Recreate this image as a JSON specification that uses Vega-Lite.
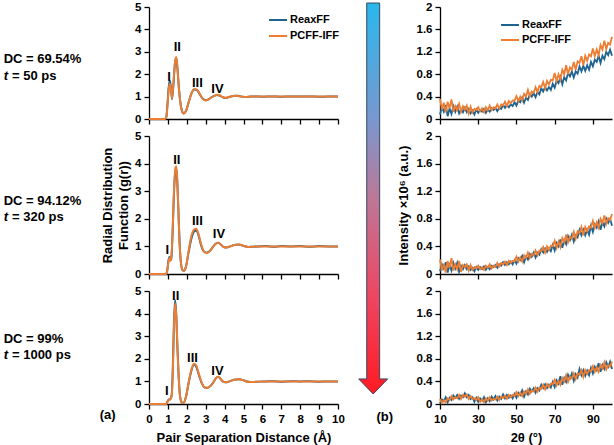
{
"$schema":"https://vega.github.io/schema/vega-lite/v6.json",
"background":"white",
"padding":{"left":3,"top":1,"right":3,"bottom":2},
"bounds":"flush",
"columns":3,
"spacing":{"row":17,"column":0},
"resolve":{"scale":{"color":"independent"},"legend":{"color":"independent"}},
"datasets":{
"rdf1":[{"x":0,"A":0,"B":0},{"x":0.85,"A":0,"B":0},{"x":0.92,"A":0.1,"B":0.1},{"x":0.97,"A":0.6,"B":0.5},{"x":1.04,"A":1.4,"B":1.3},{"x":1.1,"A":1.72,"B":1.57},{"x":1.16,"A":1.4,"B":1.35},{"x":1.22,"A":0.88,"B":0.92},{"x":1.3,"A":1.6,"B":1.7},{"x":1.37,"A":2.45,"B":2.5},{"x":1.44,"A":2.73,"B":2.77},{"x":1.5,"A":2.3,"B":2.35},{"x":1.57,"A":1.5,"B":1.5},{"x":1.65,"A":0.8,"B":0.8},{"x":1.73,"A":0.4,"B":0.4},{"x":1.82,"A":0.25,"B":0.25},{"x":1.95,"A":0.35,"B":0.35},{"x":2.1,"A":0.75,"B":0.75},{"x":2.25,"A":1.15,"B":1.15},{"x":2.4,"A":1.32,"B":1.34},{"x":2.55,"A":1.28,"B":1.3},{"x":2.7,"A":1.08,"B":1.1},{"x":2.85,"A":0.9,"B":0.9},{"x":3.0,"A":0.84,"B":0.83},{"x":3.15,"A":0.88,"B":0.88},{"x":3.3,"A":0.97,"B":0.96},{"x":3.45,"A":1.03,"B":1.03},{"x":3.6,"A":1.07,"B":1.08},{"x":3.75,"A":1.04,"B":1.05},{"x":3.9,"A":0.97,"B":0.97},{"x":4.05,"A":0.94,"B":0.95},{"x":4.25,"A":0.98,"B":0.99},{"x":4.45,"A":1.03,"B":1.03},{"x":4.65,"A":1.04,"B":1.04},{"x":4.85,"A":1.01,"B":1.0},{"x":5.1,"A":0.98,"B":0.98},{"x":5.4,"A":1.0,"B":1.0},{"x":5.7,"A":1.01,"B":1.0},{"x":6.0,"A":0.99,"B":1.0},{"x":6.5,"A":1.01,"B":1.0},{"x":7,"A":0.99,"B":1.0},{"x":7.5,"A":1.01,"B":1.0},{"x":8,"A":1.0,"B":1.0},{"x":8.5,"A":1.01,"B":1.0},{"x":9,"A":0.99,"B":1.0},{"x":9.5,"A":1.0,"B":1.0},{"x":10,"A":1.0,"B":1.0}],
"rdf2":[{"x":0,"A":0,"B":0},{"x":0.9,"A":0,"B":0},{"x":0.97,"A":0.15,"B":0.12},{"x":1.03,"A":0.5,"B":0.45},{"x":1.08,"A":0.62,"B":0.58},{"x":1.13,"A":0.5,"B":0.48},{"x":1.18,"A":0.55,"B":0.6},{"x":1.25,"A":1.5,"B":1.6},{"x":1.32,"A":2.9,"B":3.0},{"x":1.4,"A":3.75,"B":3.85},{"x":1.45,"A":3.8,"B":3.9},{"x":1.5,"A":3.3,"B":3.35},{"x":1.56,"A":2.2,"B":2.2},{"x":1.62,"A":1.1,"B":1.1},{"x":1.69,"A":0.4,"B":0.4},{"x":1.77,"A":0.14,"B":0.14},{"x":1.85,"A":0.12,"B":0.12},{"x":1.95,"A":0.25,"B":0.25},{"x":2.1,"A":0.8,"B":0.85},{"x":2.25,"A":1.3,"B":1.4},{"x":2.4,"A":1.55,"B":1.62},{"x":2.5,"A":1.58,"B":1.64},{"x":2.62,"A":1.4,"B":1.45},{"x":2.75,"A":1.05,"B":1.1},{"x":2.9,"A":0.82,"B":0.82},{"x":3.05,"A":0.77,"B":0.76},{"x":3.2,"A":0.82,"B":0.82},{"x":3.35,"A":0.95,"B":0.95},{"x":3.5,"A":1.08,"B":1.08},{"x":3.65,"A":1.13,"B":1.13},{"x":3.8,"A":1.07,"B":1.06},{"x":3.95,"A":0.98,"B":0.98},{"x":4.1,"A":0.96,"B":0.96},{"x":4.3,"A":1.0,"B":1.0},{"x":4.5,"A":1.05,"B":1.05},{"x":4.75,"A":1.07,"B":1.07},{"x":5.0,"A":1.02,"B":1.02},{"x":5.25,"A":0.98,"B":0.98},{"x":5.5,"A":0.99,"B":0.99},{"x":5.8,"A":1.0,"B":1.0},{"x":6.2,"A":1.01,"B":1.0},{"x":6.6,"A":0.99,"B":1.0},{"x":7,"A":1.01,"B":1.0},{"x":7.5,"A":1.0,"B":1.0},{"x":8,"A":1.01,"B":1.0},{"x":8.5,"A":0.99,"B":1.0},{"x":9,"A":1.01,"B":1.0},{"x":9.5,"A":1.0,"B":1.0},{"x":10,"A":1.0,"B":1.0}],
"rdf3":[{"x":0,"A":0,"B":0},{"x":0.9,"A":0,"B":0},{"x":0.97,"A":0.1,"B":0.08},{"x":1.05,"A":0.2,"B":0.18},{"x":1.13,"A":0.22,"B":0.2},{"x":1.2,"A":0.4,"B":0.35},{"x":1.26,"A":1.6,"B":1.4},{"x":1.32,"A":3.6,"B":3.4},{"x":1.38,"A":4.6,"B":4.45},{"x":1.44,"A":4.0,"B":3.95},{"x":1.5,"A":2.6,"B":2.6},{"x":1.57,"A":1.2,"B":1.2},{"x":1.65,"A":0.3,"B":0.3},{"x":1.75,"A":0.05,"B":0.05},{"x":1.85,"A":0.07,"B":0.07},{"x":1.95,"A":0.3,"B":0.3},{"x":2.1,"A":0.95,"B":0.95},{"x":2.25,"A":1.5,"B":1.55},{"x":2.38,"A":1.75,"B":1.78},{"x":2.5,"A":1.65,"B":1.7},{"x":2.65,"A":1.25,"B":1.3},{"x":2.8,"A":0.9,"B":0.92},{"x":2.95,"A":0.73,"B":0.73},{"x":3.1,"A":0.72,"B":0.72},{"x":3.25,"A":0.8,"B":0.8},{"x":3.4,"A":0.95,"B":0.95},{"x":3.55,"A":1.15,"B":1.15},{"x":3.65,"A":1.21,"B":1.21},{"x":3.75,"A":1.15,"B":1.15},{"x":3.9,"A":1.0,"B":1.0},{"x":4.05,"A":0.96,"B":0.96},{"x":4.25,"A":1.0,"B":1.0},{"x":4.5,"A":1.07,"B":1.07},{"x":4.75,"A":1.1,"B":1.1},{"x":5.0,"A":1.05,"B":1.05},{"x":5.25,"A":0.98,"B":0.98},{"x":5.5,"A":0.97,"B":0.97},{"x":5.8,"A":0.99,"B":0.99},{"x":6.2,"A":1.0,"B":1.0},{"x":6.6,"A":1.01,"B":1.0},{"x":7,"A":0.99,"B":1.0},{"x":7.5,"A":1.01,"B":1.0},{"x":8,"A":1.0,"B":1.0},{"x":8.5,"A":1.01,"B":1.0},{"x":9,"A":0.99,"B":1.0},{"x":9.5,"A":1.0,"B":1.0},{"x":10,"A":1.0,"B":1.0}],
"xrd1":[{"x":10,"A":0.08,"B":0.36},{"x":11,"A":0.21,"B":0.17},{"x":12,"A":0.13,"B":0.29},{"x":13,"A":0.25,"B":0.12},{"x":14,"A":0.05,"B":0.31},{"x":15,"A":0.19,"B":0.19},{"x":16,"A":0.09,"B":0.35},{"x":17,"A":0.23,"B":0.13},{"x":18,"A":0.13,"B":0.23},{"x":19,"A":0.22,"B":0.16},{"x":20,"A":0.10,"B":0.27},{"x":21,"A":0.17,"B":0.13},{"x":22,"A":0.12,"B":0.23},{"x":23,"A":0.20,"B":0.17},{"x":24,"A":0.12,"B":0.24},{"x":25,"A":0.18,"B":0.10},{"x":26,"A":0.10,"B":0.22},{"x":27,"A":0.15,"B":0.12},{"x":28,"A":0.08,"B":0.18},{"x":29,"A":0.17,"B":0.16},{"x":30,"A":0.11,"B":0.21},{"x":31,"A":0.16,"B":0.14},{"x":32,"A":0.13,"B":0.19},{"x":33,"A":0.18,"B":0.12},{"x":34,"A":0.11,"B":0.21},{"x":35,"A":0.17,"B":0.16},{"x":36,"A":0.13,"B":0.24},{"x":37,"A":0.19,"B":0.16},{"x":38,"A":0.16,"B":0.21},{"x":39,"A":0.20,"B":0.19},{"x":40,"A":0.14,"B":0.26},{"x":41,"A":0.20,"B":0.19},{"x":42,"A":0.18,"B":0.26},{"x":43,"A":0.25,"B":0.24},{"x":44,"A":0.20,"B":0.31},{"x":45,"A":0.25,"B":0.23},{"x":46,"A":0.21,"B":0.32},{"x":47,"A":0.26,"B":0.28},{"x":48,"A":0.23,"B":0.33},{"x":49,"A":0.30,"B":0.33},{"x":50,"A":0.24,"B":0.41},{"x":51,"A":0.33,"B":0.32},{"x":52,"A":0.30,"B":0.40},{"x":53,"A":0.38,"B":0.33},{"x":54,"A":0.29,"B":0.45},{"x":55,"A":0.38,"B":0.40},{"x":56,"A":0.34,"B":0.52},{"x":57,"A":0.44,"B":0.41},{"x":58,"A":0.40,"B":0.49},{"x":59,"A":0.46,"B":0.47},{"x":60,"A":0.39,"B":0.57},{"x":61,"A":0.48,"B":0.48},{"x":62,"A":0.44,"B":0.59},{"x":63,"A":0.55,"B":0.57},{"x":64,"A":0.49,"B":0.66},{"x":65,"A":0.57,"B":0.55},{"x":66,"A":0.51,"B":0.68},{"x":67,"A":0.57,"B":0.62},{"x":68,"A":0.52,"B":0.70},{"x":69,"A":0.63,"B":0.69},{"x":70,"A":0.56,"B":0.82},{"x":71,"A":0.68,"B":0.68},{"x":72,"A":0.64,"B":0.80},{"x":73,"A":0.75,"B":0.70},{"x":74,"A":0.62,"B":0.88},{"x":75,"A":0.75,"B":0.80},{"x":76,"A":0.69,"B":0.96},{"x":77,"A":0.82,"B":0.80},{"x":78,"A":0.76,"B":0.92},{"x":79,"A":0.85,"B":0.88},{"x":80,"A":0.74,"B":1.02},{"x":81,"A":0.85,"B":0.88},{"x":82,"A":0.81,"B":1.03},{"x":83,"A":0.94,"B":1.00},{"x":84,"A":0.85,"B":1.12},{"x":85,"A":0.95,"B":0.96},{"x":86,"A":0.86,"B":1.13},{"x":87,"A":0.96,"B":1.04},{"x":88,"A":0.88,"B":1.15},{"x":89,"A":1.02,"B":1.12},{"x":90,"A":0.94,"B":1.26},{"x":91,"A":1.06,"B":1.12},{"x":92,"A":1.02,"B":1.24},{"x":93,"A":1.13,"B":1.14},{"x":94,"A":1.00,"B":1.32},{"x":95,"A":1.13,"B":1.24},{"x":96,"A":1.07,"B":1.40},{"x":97,"A":1.20,"B":1.25},{"x":98,"A":1.14,"B":1.36},{"x":99,"A":1.24,"B":1.33},{"x":100,"A":1.13,"B":1.47}],
"xrd2":[{"x":10,"A":0.04,"B":0.21},{"x":11,"A":0.14,"B":0.05},{"x":12,"A":0.08,"B":0.15},{"x":13,"A":0.17,"B":0.02},{"x":14,"A":0.02,"B":0.19},{"x":15,"A":0.13,"B":0.09},{"x":16,"A":0.05,"B":0.23},{"x":17,"A":0.16,"B":0.05},{"x":18,"A":0.08,"B":0.14},{"x":19,"A":0.16,"B":0.07},{"x":20,"A":0.03,"B":0.19},{"x":21,"A":0.12,"B":0.03},{"x":22,"A":0.07,"B":0.13},{"x":23,"A":0.13,"B":0.10},{"x":24,"A":0.07,"B":0.14},{"x":25,"A":0.11,"B":0.05},{"x":26,"A":0.06,"B":0.13},{"x":27,"A":0.09,"B":0.06},{"x":28,"A":0.04,"B":0.10},{"x":29,"A":0.10,"B":0.08},{"x":30,"A":0.06,"B":0.12},{"x":31,"A":0.10,"B":0.07},{"x":32,"A":0.07,"B":0.10},{"x":33,"A":0.11,"B":0.06},{"x":34,"A":0.06,"B":0.12},{"x":35,"A":0.10,"B":0.09},{"x":36,"A":0.07,"B":0.14},{"x":37,"A":0.12,"B":0.08},{"x":38,"A":0.10,"B":0.12},{"x":39,"A":0.13,"B":0.10},{"x":40,"A":0.09,"B":0.16},{"x":41,"A":0.14,"B":0.11},{"x":42,"A":0.12,"B":0.16},{"x":43,"A":0.17,"B":0.14},{"x":44,"A":0.13,"B":0.18},{"x":45,"A":0.17,"B":0.13},{"x":46,"A":0.14,"B":0.19},{"x":47,"A":0.18,"B":0.16},{"x":48,"A":0.14,"B":0.19},{"x":49,"A":0.20,"B":0.18},{"x":50,"A":0.15,"B":0.25},{"x":51,"A":0.23,"B":0.18},{"x":52,"A":0.20,"B":0.24},{"x":53,"A":0.26,"B":0.18},{"x":54,"A":0.17,"B":0.27},{"x":55,"A":0.25,"B":0.23},{"x":56,"A":0.21,"B":0.31},{"x":57,"A":0.29,"B":0.23},{"x":58,"A":0.25,"B":0.29},{"x":59,"A":0.31,"B":0.27},{"x":60,"A":0.24,"B":0.34},{"x":61,"A":0.31,"B":0.27},{"x":62,"A":0.28,"B":0.34},{"x":63,"A":0.36,"B":0.33},{"x":64,"A":0.31,"B":0.39},{"x":65,"A":0.37,"B":0.31},{"x":66,"A":0.32,"B":0.40},{"x":67,"A":0.37,"B":0.35},{"x":68,"A":0.33,"B":0.41},{"x":69,"A":0.42,"B":0.40},{"x":70,"A":0.34,"B":0.48},{"x":71,"A":0.45,"B":0.38},{"x":72,"A":0.40,"B":0.47},{"x":73,"A":0.50,"B":0.39},{"x":74,"A":0.38,"B":0.52},{"x":75,"A":0.49,"B":0.46},{"x":76,"A":0.43,"B":0.57},{"x":77,"A":0.55,"B":0.46},{"x":78,"A":0.49,"B":0.54},{"x":79,"A":0.57,"B":0.51},{"x":80,"A":0.47,"B":0.61},{"x":81,"A":0.56,"B":0.51},{"x":82,"A":0.53,"B":0.62},{"x":83,"A":0.64,"B":0.59},{"x":84,"A":0.56,"B":0.68},{"x":85,"A":0.64,"B":0.56},{"x":86,"A":0.56,"B":0.68},{"x":87,"A":0.64,"B":0.62},{"x":88,"A":0.57,"B":0.69},{"x":89,"A":0.70,"B":0.67},{"x":90,"A":0.61,"B":0.77},{"x":91,"A":0.72,"B":0.67},{"x":92,"A":0.67,"B":0.75},{"x":93,"A":0.76,"B":0.67},{"x":94,"A":0.64,"B":0.80},{"x":95,"A":0.75,"B":0.74},{"x":96,"A":0.69,"B":0.85},{"x":97,"A":0.80,"B":0.73},{"x":98,"A":0.74,"B":0.81},{"x":99,"A":0.80,"B":0.78},{"x":100,"A":0.70,"B":0.87}],
"xrd3":[{"x":10,"A":0.01,"B":0.09},{"x":11,"A":0.08,"B":0.02},{"x":12,"A":0.05,"B":0.07},{"x":13,"A":0.12,"B":0.03},{"x":14,"A":0.03,"B":0.10},{"x":15,"A":0.11,"B":0.07},{"x":16,"A":0.07,"B":0.14},{"x":17,"A":0.15,"B":0.08},{"x":18,"A":0.11,"B":0.12},{"x":19,"A":0.16,"B":0.10},{"x":20,"A":0.09,"B":0.16},{"x":21,"A":0.15,"B":0.09},{"x":22,"A":0.12,"B":0.16},{"x":23,"A":0.19,"B":0.13},{"x":24,"A":0.12,"B":0.17},{"x":25,"A":0.16,"B":0.09},{"x":26,"A":0.09,"B":0.14},{"x":27,"A":0.12,"B":0.09},{"x":28,"A":0.04,"B":0.10},{"x":29,"A":0.11,"B":0.07},{"x":30,"A":0.04,"B":0.12},{"x":31,"A":0.10,"B":0.04},{"x":32,"A":0.06,"B":0.08},{"x":33,"A":0.12,"B":0.03},{"x":34,"A":0.03,"B":0.10},{"x":35,"A":0.10,"B":0.06},{"x":36,"A":0.05,"B":0.12},{"x":37,"A":0.13,"B":0.06},{"x":38,"A":0.08,"B":0.09},{"x":39,"A":0.14,"B":0.08},{"x":40,"A":0.06,"B":0.13},{"x":41,"A":0.13,"B":0.07},{"x":42,"A":0.09,"B":0.13},{"x":43,"A":0.17,"B":0.11},{"x":44,"A":0.10,"B":0.15},{"x":45,"A":0.16,"B":0.09},{"x":46,"A":0.11,"B":0.16},{"x":47,"A":0.15,"B":0.12},{"x":48,"A":0.10,"B":0.16},{"x":49,"A":0.18,"B":0.14},{"x":50,"A":0.11,"B":0.21},{"x":51,"A":0.20,"B":0.14},{"x":52,"A":0.16,"B":0.20},{"x":53,"A":0.24,"B":0.14},{"x":54,"A":0.13,"B":0.22},{"x":55,"A":0.22,"B":0.18},{"x":56,"A":0.17,"B":0.26},{"x":57,"A":0.27,"B":0.18},{"x":58,"A":0.22,"B":0.24},{"x":59,"A":0.28,"B":0.22},{"x":60,"A":0.20,"B":0.29},{"x":61,"A":0.28,"B":0.22},{"x":62,"A":0.24,"B":0.29},{"x":63,"A":0.34,"B":0.27},{"x":64,"A":0.28,"B":0.34},{"x":65,"A":0.35,"B":0.26},{"x":66,"A":0.28,"B":0.35},{"x":67,"A":0.34,"B":0.30},{"x":68,"A":0.29,"B":0.36},{"x":69,"A":0.39,"B":0.35},{"x":70,"A":0.30,"B":0.43},{"x":71,"A":0.42,"B":0.33},{"x":72,"A":0.36,"B":0.41},{"x":73,"A":0.49,"B":0.34},{"x":74,"A":0.34,"B":0.46},{"x":75,"A":0.46,"B":0.40},{"x":76,"A":0.39,"B":0.51},{"x":77,"A":0.52,"B":0.39},{"x":78,"A":0.45,"B":0.48},{"x":79,"A":0.54,"B":0.45},{"x":80,"A":0.41,"B":0.54},{"x":81,"A":0.53,"B":0.44},{"x":82,"A":0.47,"B":0.54},{"x":83,"A":0.62,"B":0.52},{"x":84,"A":0.51,"B":0.60},{"x":85,"A":0.60,"B":0.48},{"x":86,"A":0.50,"B":0.60},{"x":87,"A":0.59,"B":0.53},{"x":88,"A":0.51,"B":0.60},{"x":89,"A":0.64,"B":0.58},{"x":90,"A":0.54,"B":0.67},{"x":91,"A":0.66,"B":0.57},{"x":92,"A":0.60,"B":0.65},{"x":93,"A":0.72,"B":0.57},{"x":94,"A":0.57,"B":0.69},{"x":95,"A":0.69,"B":0.63},{"x":96,"A":0.62,"B":0.74},{"x":97,"A":0.74,"B":0.61},{"x":98,"A":0.66,"B":0.69},{"x":99,"A":0.75,"B":0.66},{"x":100,"A":0.62,"B":0.75}]
},
"concat":[
{"width":189,"height":112,
 "encoding":{"x":{"field":"x","type":"quantitative","scale":{"domain":[0,10]},"axis":{"values":[0,1,2,3,4,5,6,7,8,9,10],"labels":false,"title":null}},
  "y":{"field":"v","type":"quantitative","scale":{"domain":[0,5]},"axis":{"values":[0,1,2,3,4,5],"title":null}}},
 "layer":[
  {"data":{"name":"rdf1"},"transform":[{"fold":["A","B"],"as":["s","v"]}],"mark":{"type":"line","strokeWidth":2,"interpolate":"monotone"},
   "encoding":{"color":{"field":"s","type":"nominal","scale":{"domain":["A","B"],"range":["#1f6391","#ed7d31"]},
    "legend":{"orient":"none","legendX":119,"legendY":3,"title":null,"symbolType":"stroke","symbolSize":324,"symbolStrokeWidth":2,"labelExpr":"datum.label == 'A' ? 'ReaxFF' : 'PCFF-IFF'","rowPadding":1,"labelOffset":2,"padding":0}}}},
  {"data":{"values":[{"x":1.06,"v":2.02,"t":"I"},{"x":1.5,"v":3.36,"t":"II"},{"x":2.56,"v":1.72,"t":"III"},{"x":3.62,"v":1.47,"t":"IV"}]},"mark":{"type":"text","fontSize":13,"dy":3},"encoding":{"text":{"field":"t"}}},
  {"data":{"values":[{"x":-7.69,"v":2.83,"t":"DC = 69.54%"},{"x":-7.25,"v":2.06,"t":"= 50 ps"}]},"mark":{"type":"text","fontSize":13,"align":"left","dy":3},"encoding":{"text":{"field":"t"},"y":{"field":"v","type":"quantitative","scale":{"domain":[0,5]}}}},
  {"data":{"values":[{"x":-7.69,"v":2.06,"t":"t"}]},"mark":{"type":"text","fontSize":13,"align":"left","fontStyle":"italic","dy":3},"encoding":{"text":{"field":"t"},"y":{"field":"v","type":"quantitative","scale":{"domain":[0,5]}}}}
 ],
 "resolve":{"scale":{"y":"shared","x":"shared"}}},
{"width":102,"height":112,"data":{"values":[{"t":""}]},"mark":{"type":"text"},"encoding":{"text":{"field":"t"}}},
{"width":172,"height":112,
 "encoding":{"x":{"field":"x","type":"quantitative","scale":{"domain":[10,100]},"axis":{"values":[10,30,50,70,90],"labels":false,"title":null}},
  "y":{"field":"v","type":"quantitative","scale":{"domain":[0,2]},"axis":{"values":[0,0.4,0.8,1.2,1.6,2],"format":"~g","title":null}}},
 "layer":[
  {"data":{"name":"xrd1"},"transform":[{"fold":["A","B"],"as":["s","v"]}],"mark":{"type":"line","strokeWidth":1.8},
   "encoding":{"color":{"field":"s","type":"nominal","scale":{"domain":["A","B"],"range":["#1f6391","#ed7d31"]},
    "legend":{"orient":"none","legendX":60,"legendY":8,"title":null,"symbolType":"stroke","symbolSize":324,"symbolStrokeWidth":2,"labelExpr":"datum.label == 'A' ? 'ReaxFF' : 'PCFF-IFF'","rowPadding":0,"labelOffset":2,"padding":0}}}}
 ]},
{"width":189,"height":138,
 "encoding":{"x":{"field":"x","type":"quantitative","scale":{"domain":[0,10]},"axis":{"values":[0,1,2,3,4,5,6,7,8,9,10],"labels":false,"title":null}},
  "y":{"field":"v","type":"quantitative","scale":{"domain":[0,5]},"axis":{"values":[0,1,2,3,4,5],"title":["Radial Distribution","Function (g(r))"],"titlePadding":4,"titleLineHeight":16}}},
 "layer":[
  {"data":{"name":"rdf2"},"transform":[{"fold":["A","B"],"as":["s","v"]}],"mark":{"type":"line","strokeWidth":2,"interpolate":"monotone"},
   "encoding":{"color":{"field":"s","type":"nominal","scale":{"domain":["A","B"],"range":["#1f6391","#ed7d31"]},"legend":null}}},
  {"data":{"values":[{"x":0.97,"v":0.97,"t":"I"},{"x":1.47,"v":4.24,"t":"II"},{"x":2.56,"v":2.02,"t":"III"},{"x":3.7,"v":1.54,"t":"IV"}]},"mark":{"type":"text","fontSize":13,"dy":3},"encoding":{"text":{"field":"t"}}},
  {"data":{"values":[{"x":-7.69,"v":2.76,"t":"DC = 94.12%"},{"x":-7.25,"v":2.18,"t":"= 320 ps"}]},"mark":{"type":"text","fontSize":13,"align":"left","dy":3},"encoding":{"text":{"field":"t"},"y":{"field":"v","type":"quantitative","scale":{"domain":[0,5]}}}},
  {"data":{"values":[{"x":-7.69,"v":2.18,"t":"t"}]},"mark":{"type":"text","fontSize":13,"align":"left","fontStyle":"italic","dy":3},"encoding":{"text":{"field":"t"},"y":{"field":"v","type":"quantitative","scale":{"domain":[0,5]}}}}
 ],
 "resolve":{"scale":{"y":"shared","x":"shared"}}},
{"width":102,"height":138,"data":{"values":[{"px":0.345,"py":0.547}]},
 "mark":{"type":"point","shape":"M-0.033,-1L0.033,-1L0.033,0.923L0.074,0.923L0,1L-0.074,0.923L-0.033,0.923Z","size":152881,"filled":true,"opacity":1,"fillOpacity":1,
  "fill":{"gradient":"linear","x1":0,"y1":0,"x2":0,"y2":1,"stops":[{"offset":0,"color":"#29b7ec"},{"offset":0.3,"color":"#7a97cf"},{"offset":0.5,"color":"#bd7796"},{"offset":0.75,"color":"#ee4662"},{"offset":1,"color":"#ff1a22"}]},
  "stroke":"#34495e","strokeWidth":1,"strokeOpacity":1},
 "encoding":{"x":{"field":"px","type":"quantitative","scale":{"domain":[0,1]},"axis":null},"y":{"field":"py","type":"quantitative","scale":{"domain":[0,1]},"axis":null}}},
{"width":172,"height":138,
 "encoding":{"x":{"field":"x","type":"quantitative","scale":{"domain":[10,100]},"axis":{"values":[10,30,50,70,90],"labels":false,"title":null}},
  "y":{"field":"v","type":"quantitative","scale":{"domain":[0,2]},"axis":{"values":[0,0.4,0.8,1.2,1.6,2],"format":"~g","title":"Intensity ×10⁶ (a.u.)","titlePadding":6}}},
 "layer":[
  {"data":{"name":"xrd2"},"transform":[{"fold":["A","B"],"as":["s","v"]}],"mark":{"type":"line","strokeWidth":1.8},
   "encoding":{"color":{"field":"s","type":"nominal","scale":{"domain":["A","B"],"range":["#1f6391","#ed7d31"]},"legend":null}}}
 ]},
{"width":189,"height":113,
 "encoding":{"x":{"field":"x","type":"quantitative","scale":{"domain":[0,10]},"axis":{"values":[0,1,2,3,4,5,6,7,8,9,10],"title":"Pair Separation Distance (Å)","labelPadding":4,"titlePadding":7}},
  "y":{"field":"v","type":"quantitative","scale":{"domain":[0,5]},"axis":{"values":[0,1,2,3,4,5],"title":null}}},
 "layer":[
  {"data":{"name":"rdf3"},"transform":[{"fold":["A","B"],"as":["s","v"]}],"mark":{"type":"line","strokeWidth":2,"interpolate":"monotone"},
   "encoding":{"color":{"field":"s","type":"nominal","scale":{"domain":["A","B"],"range":["#1f6391","#ed7d31"]},"legend":null}}},
  {"data":{"values":[{"x":0.94,"v":0.7,"t":"I"},{"x":1.41,"v":4.93,"t":"II"},{"x":2.3,"v":2.15,"t":"III"},{"x":3.62,"v":1.59,"t":"IV"},{"x":-2.19,"v":-0.36,"t":"(a)"}]},"mark":{"type":"text","fontSize":13,"dy":3},"encoding":{"text":{"field":"t"}}},
  {"data":{"values":[{"x":-7.69,"v":3.02,"t":"DC = 99%"},{"x":-7.25,"v":2.31,"t":"= 1000 ps"}]},"mark":{"type":"text","fontSize":13,"align":"left","dy":3},"encoding":{"text":{"field":"t"},"y":{"field":"v","type":"quantitative","scale":{"domain":[0,5]}}}},
  {"data":{"values":[{"x":-7.69,"v":2.31,"t":"t"}]},"mark":{"type":"text","fontSize":13,"align":"left","fontStyle":"italic","dy":3},"encoding":{"text":{"field":"t"},"y":{"field":"v","type":"quantitative","scale":{"domain":[0,5]}}}}
 ],
 "resolve":{"scale":{"y":"shared","x":"shared"}}},
{"width":102,"height":113,"data":{"values":[{"px":0.458,"py":-0.086,"t":"(b)"}]},"mark":{"type":"text","fontSize":13,"dy":3},
 "encoding":{"x":{"field":"px","type":"quantitative","scale":{"domain":[0,1]},"axis":null},"y":{"field":"py","type":"quantitative","scale":{"domain":[0,1]},"axis":null},"text":{"field":"t"}}},
{"width":172,"height":113,
 "encoding":{"x":{"field":"x","type":"quantitative","scale":{"domain":[10,100]},"axis":{"values":[10,30,50,70,90],"title":"2θ (°)","labelPadding":4,"titlePadding":7}},
  "y":{"field":"v","type":"quantitative","scale":{"domain":[0,2]},"axis":{"values":[0,0.4,0.8,1.2,1.6,2],"format":"~g","title":null}}},
 "layer":[
  {"data":{"name":"xrd3"},"transform":[{"fold":["A","B"],"as":["s","v"]}],"mark":{"type":"line","strokeWidth":1.8},
   "encoding":{"color":{"field":"s","type":"nominal","scale":{"domain":["A","B"],"range":["#1f6391","#ed7d31"]},"legend":null}}}
 ]}
],
"config":{
 "view":{"stroke":null},
 "font":"Liberation Sans",
 "text":{"font":"Liberation Sans","fontWeight":"bold","color":"#000"},
 "axis":{"grid":false,"domainColor":"#000","tickColor":"#000","labelColor":"#000","titleColor":"#000","labelFont":"Liberation Sans","titleFont":"Liberation Sans","labelFontWeight":"bold","titleFontWeight":"bold","labelFontSize":11.5,"titleFontSize":13,"tickSize":5,"domainWidth":1.3,"tickWidth":1.3,"labelPadding":3,"titlePadding":5,"labelFlush":false,"labelOverlap":false},
 "legend":{"labelFont":"Liberation Sans","labelFontWeight":"bold","labelFontSize":11,"labelColor":"#000"}
}
}
